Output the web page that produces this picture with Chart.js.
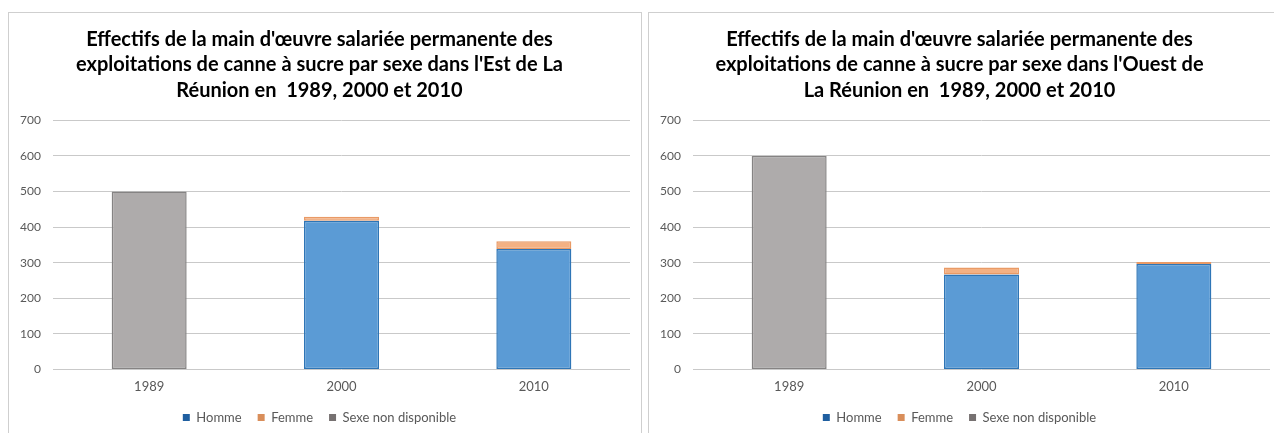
<!DOCTYPE html>
<html>
<head>
<meta charset="utf-8">
<script src="https://cdn.jsdelivr.net/npm/chart.js@4"></script>
<style>
  body { margin: 0; background: #fff; width: 1274px; height: 433px; overflow: hidden; position: relative; }
  .cadre { position: absolute; top: 12px; width: 632px; height: 430px; border: 1px solid #cfcfcf; background: #fff; }
  #cadre-est { left: 8px; }
  #cadre-ouest { left: 648px; }
  canvas { display: block; }
</style>
</head>
<body>
<div class="cadre" id="cadre-est"><canvas id="graph-est" width="632" height="430"></canvas></div>
<div class="cadre" id="cadre-ouest"><canvas id="graph-ouest" width="632" height="430"></canvas></div>
<script>
const annees = ['1989', '2000', '2010'];
const seriesNoms = ['Homme', 'Femme', 'Sexe non disponible'];

const estHomme = [null, 418, 338];
const estFemme = [null, 11, 22];
const estNonDispo = [500, null, null];

const ouestHomme = [null, 267, 296];
const ouestFemme = [null, 19, 6];
const ouestNonDispo = [600, null, null];

const titreEst = ["Effectifs de la main d'œuvre salariée permanente des",
  "exploitations de canne à sucre par sexe dans l'Est de La",
  "Réunion en  1989, 2000 et 2010"];
const titreOuest = ["Effectifs de la main d'œuvre salariée permanente des",
  "exploitations de canne à sucre par sexe dans l'Ouest de",
  "La Réunion en  1989, 2000 et 2010"];

const remplis = ['#5b9bd5', '#f4b183', '#aeabab'];
const bords = ['#2e75b6', '#e99a66', '#858383'];
const pastilles = ['#1f5fa0', '#d98e5a', '#767171'];

function creerGraphique(id, titre, homme, femme, nonDispo) {
    const ctx = document.getElementById(id).getContext('2d');
    const valeurs = [homme, femme, nonDispo];
    return new Chart(ctx, {
        type: 'bar',
        data: {
            labels: annees,
            datasets: valeurs.map(function (v, i) {
                return {
                    label: seriesNoms[i],
                    data: v,
                    backgroundColor: remplis[i],
                    borderColor: bords[i],
                    borderWidth: 1.5,
                    borderSkipped: false,
                    categoryPercentage: 1,
                    barPercentage: 0.39
                };
            })
        },
        options: {
            responsive: false,
            animation: false,
            layout: { padding: { left: 0, right: 11, top: 0, bottom: 9 } },
            scales: {
                x: {
                    stacked: true,
                    afterFit: function (scale) { scale.height = 25.6; },
                    grid: { display: false, drawTicks: false },
                    border: { display: false },
                    ticks: { color: '#595959', font: { family: 'Lato', size: 13 }, padding: 10 }
                },
                y: {
                    stacked: true,
                    min: 0,
                    max: 700,
                    afterFit: function (scale) { scale.width = 44; },
                    grid: { color: '#c9c9c9', lineWidth: 1, drawTicks: false },
                    border: { display: false },
                    ticks: { stepSize: 100, color: '#595959', font: { family: 'Lato', size: 12 }, padding: 12 }
                }
            },
            plugins: {
                title: {
                    display: true,
                    text: titre,
                    color: '#000',
                    font: { family: 'Lato', size: 20, weight: 'bold', lineHeight: 1.28 },
                    padding: { top: 13.5, bottom: 17 }
                },
                legend: {
                    position: 'bottom',
                    labels: {
                        color: '#595959',
                        font: { family: 'Lato', size: 13 },
                        boxWidth: 7,
                        boxHeight: 7,
                        padding: 16,
                        generateLabels: function () {
                            return seriesNoms.map(function (n, i) {
                                return { text: n, fillStyle: pastilles[i], strokeStyle: pastilles[i], lineWidth: 0, datasetIndex: i, fontColor: '#595959' };
                            });
                        }
                    }
                },
                tooltip: { enabled: false }
            }
        }
    });
}

creerGraphique('graph-est', titreEst, estHomme, estFemme, estNonDispo);
creerGraphique('graph-ouest', titreOuest, ouestHomme, ouestFemme, ouestNonDispo);
</script>
</body>
</html>
